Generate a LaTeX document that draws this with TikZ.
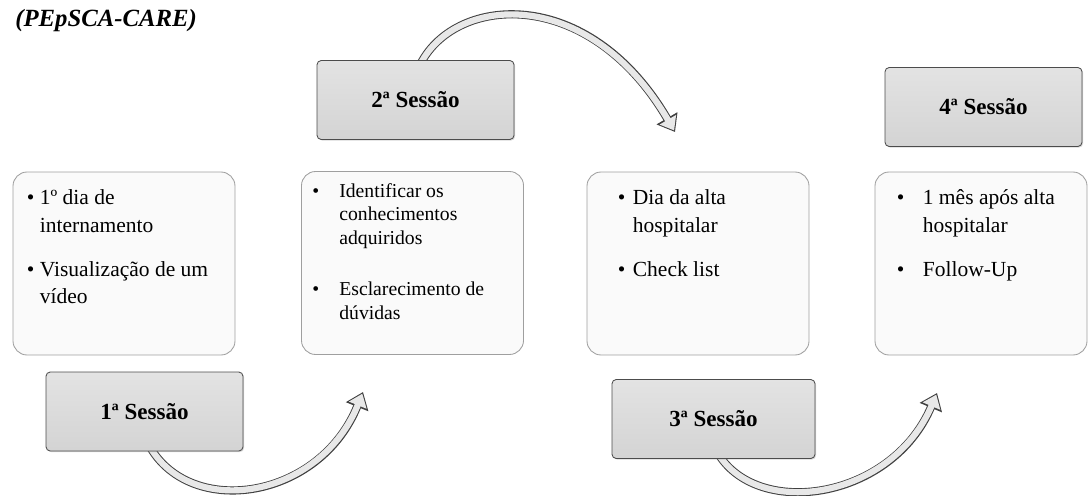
\documentclass[tikz,border=0pt]{standalone}
\usepackage{fontspec}
\setmainfont{Liberation Serif}
\usetikzlibrary{arrows.meta,shadows}

\newcommand{\marca}[2]{\par\hangindent=#1\hangafter=1\noindent\makebox[#1][l]{\textbullet}#2}

\begin{document}
\begin{tikzpicture}[
        caixa/.style={draw=gray!75, fill=gray!4, rounded corners=10pt, line width=0.6pt, minimum width=5.55cm, minimum height=4.575cm},
        sessao/.style={draw=gray!60!black, top color=gray!22, bottom color=gray!34, rounded corners=3pt, line width=0.6pt, minimum width=4.925cm, minimum height=1.975cm, font=\fontsize{16.4}{19}\selectfont\bfseries, drop shadow={opacity=0.3, shadow xshift=0.8pt, shadow yshift=-0.8pt}},
        texto/.style={anchor=base west, inner sep=0pt},
        seta/.style={draw=gray!18, line width=4.4pt, -{Triangle[width=13pt,length=8.8pt]}, shorten >=1.3pt, preaction={draw=gray!50!black, line width=5.8pt, shorten >=0pt, -{Triangle[width=16.5pt,length=11.3pt]}}}]
            \useasboundingbox (0,0) rectangle (27.2,12.375);

            % Arrows (under the boxes)
            \coordinate (a1) at (3.75,1.2);
            \coordinate (b1) at (9.075,2.575);
            \coordinate (a2) at (10.475,10.7);
            \coordinate (b2) at (16.875,9.075);
            \coordinate (a3) at (17.975,1.0);
            \coordinate (b3) at (23.425,2.55);
            \draw[seta] (a1) .. controls (4.8,-0.6) and (8.0,-0.1) .. (b1);
            \draw[seta] (a2) .. controls (11.3,12.5) and (14.7,12.8) .. (b2);
            \draw[seta] (a3) .. controls (19.0,-0.6) and (22.3,-0.1) .. (b3);

            % Title
            \node[texto, font=\fontsize{17.6}{20}\selectfont\bfseries\itshape] (titulo) at (0.375,11.7) {(PEpSCA-CARE)};

            % Boxes
            \node[caixa] (c1) at (3.1,5.7875) {};
            \node[caixa] (c2) at (10.3125,5.8) {};
            \node[caixa] (c3) at (17.45,5.7875) {};
            \node[caixa, minimum width=5.3cm] (c4) at (24.525,5.7875) {};

            % Sessions
            \node[sessao] (s1) at (3.6125,2.0875) {1ª Sessão};
            \node[sessao] (s2) at (10.3875,9.875) {2ª Sessão};
            \node[sessao, minimum width=5.075cm] (s3) at (17.8375,1.9) {3ª Sessão};
            \node[sessao] (s4) at (24.5875,9.7) {4ª Sessão};

            % Texts
            \node[texto] (t1) at ([xshift=0.35cm, yshift=-0.825cm]c1.north west) {\parbox[t]{5cm}{\fontsize{15.3}{19.6}\selectfont
                \marca{0.325cm}{1º dia de\\internamento}\par\vspace{11.7pt}
                \marca{0.325cm}{Visualização de um\\vídeo}}};
            \node[texto] (t2) at ([xshift=0.275cm, yshift=-0.65cm]c2.north west) {\parbox[t]{5.2cm}{\fontsize{14}{16.7}\selectfont
                \marca{0.675cm}{Identificar os\\conhecimentos\\adquiridos}\par\vspace{20pt}
                \marca{0.675cm}{Esclarecimento de\\dúvidas}}};
            \node[texto] (t3) at ([xshift=0.775cm, yshift=-0.825cm]c3.north west) {\parbox[t]{4.6cm}{\fontsize{15.3}{19.6}\selectfont
                \marca{0.375cm}{Dia da alta\\hospitalar}\par\vspace{11.7pt}
                \marca{0.375cm}{Check list}}};
            \node[texto] (t4) at ([xshift=0.55cm, yshift=-0.825cm]c4.north west) {\parbox[t]{4.6cm}{\fontsize{15.3}{19.6}\selectfont
                \marca{0.65cm}{1 mês após alta\\hospitalar}\par\vspace{11.7pt}
                \marca{0.65cm}{Follow-Up}}};
        \end{tikzpicture}
\end{document}
